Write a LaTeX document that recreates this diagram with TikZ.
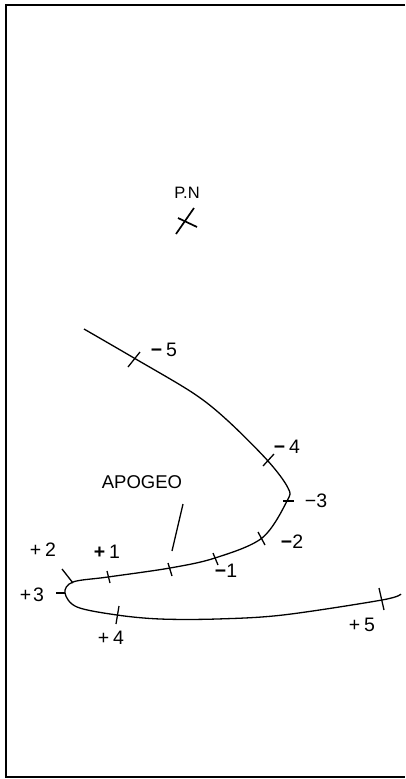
\documentclass[tikz,border=0pt]{standalone}
\usepackage{fontspec}
\setmainfont{Liberation Sans}
\begin{document}
\begin{tikzpicture}[x=1pt,y=-1pt,
  lbl/.style={inner sep=0pt,font=\fontsize{19.5}{23}\selectfont},
  small/.style={inner sep=0pt,font=\fontsize{16.5}{19}\selectfont},
  orbit/.style={line width=1.3pt},
  tick/.style={line width=1.3pt},
  frame/.style={line width=1.8pt}]
\useasboundingbox (0,0) rectangle (405,779);
% frame
\coordinate (f1) at (405,5);
\coordinate (f2) at (6,5);
\coordinate (f3) at (6,777);
\coordinate (f4) at (405,777);
\draw[frame] (f1) -- (f2) -- (f3) -- (f4);
% P.N
\node[small] (pn) at (187,193) {P.N};
\coordinate (pa1) at (176,234);
\coordinate (pa2) at (194,208);
\coordinate (pb1) at (178,218);
\coordinate (pb2) at (197,227);
\draw[tick,line width=1.7pt] (pa1) -- (pa2);
\draw[tick,line width=1.7pt] (pb1) -- (pb2);
% orbit
\draw[orbit] plot[smooth,tension=0.55] coordinates {
 (84,329) (134,358) (193,393) (227,420) (268,461) (288,488) (287,501)
 (262,538) (215,558) (170,568) (108,577) (73,582) (65,593) (77,607)
 (117,615) (160,619) (217,619) (283,615) (382,600) (401,594)};
% ticks
\coordinate (m5a) at (128,367); \coordinate (m5b) at (140,352);
\coordinate (m4a) at (263,466); \coordinate (m4b) at (274,454);
\coordinate (m3a) at (283,501); \coordinate (m3b) at (294,501);
\coordinate (m2a) at (258,532); \coordinate (m2b) at (265,545);
\coordinate (m1a) at (213,553); \coordinate (m1b) at (218,565);
\coordinate (apa) at (168,563); \coordinate (apb) at (172,576);
\coordinate (p1a) at (107,571); \coordinate (p1b) at (110,583);
\coordinate (p2a) at (62,569);  \coordinate (p2b) at (73,583);
\coordinate (p3a) at (56,593);  \coordinate (p3b) at (65,593);
\coordinate (p4a) at (119,606); \coordinate (p4b) at (116,624);
\coordinate (p5a) at (379,588); \coordinate (p5b) at (384,610);
\draw[tick] (m5a) -- (m5b);
\draw[tick] (m4a) -- (m4b);
\draw[tick] (m3a) -- (m3b);
\draw[tick] (m2a) -- (m2b);
\draw[tick] (m1a) -- (m1b);
\draw[tick] (apa) -- (apb);
\draw[tick] (p1a) -- (p1b);
\draw[tick] (p2a) -- (p2b);
\draw[tick] (p3a) -- (p3b);
\draw[tick] (p4a) -- (p4b);
\draw[tick] (p5a) -- (p5b);
% apogee leader
\coordinate (la) at (183,504);
\coordinate (lb) at (172,551);
\draw[tick] (la) -- (lb);
\node[lbl,font=\fontsize{18.5}{22}\selectfont] (apogeo) at (142,482) {APOGEO};
% labels
\node[lbl] (lm5) at (164,350) {\textbf{−}\hspace{0.2em}5};
\node[lbl] (lm4) at (287,447) {\textbf{−}\hspace{0.2em}4};
\node[lbl] (lm3) at (316,501) {−3};
\node[lbl] (lm2) at (292,542) {\textbf{−}2};
\node[lbl] (lm1) at (226,571) {\textbf{−}1};
\node[lbl] (lp1) at (107,552) {\textbf{+}\hspace{0.2em}1};
\node[lbl] (lp2) at (43,550) {+\hspace{0.2em}2};
\node[lbl] (lp3) at (32,595) {+\hspace{0.1em}3};
\node[lbl] (lp4) at (111,638) {+\hspace{0.2em}4};
\node[lbl] (lp5) at (362,625) {+\hspace{0.2em}5};
\end{tikzpicture}
\end{document}
